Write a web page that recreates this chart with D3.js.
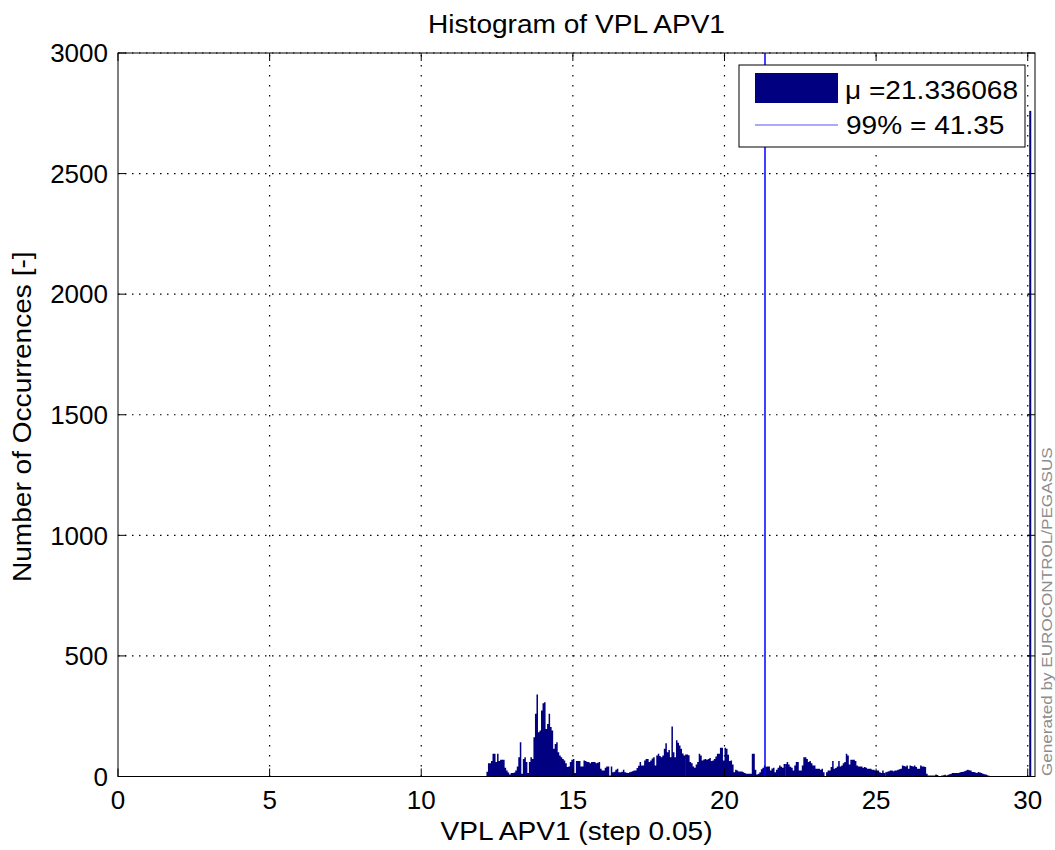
<!DOCTYPE html>
<html>
<head>
<meta charset="utf-8">
<script src="https://cdn.jsdelivr.net/npm/d3@7"></script>
<style>
  html, body { margin: 0; padding: 0; background: #fff; }
  svg { display: block; font-family: "Liberation Sans", Arial, sans-serif; }
</style>
</head>
<body>
<svg id="chart" width="1055" height="850"></svg>
<script>
// ---------------- data ----------------
const binStep = 0.05;
const xTicks = [0, 5, 10, 15, 20, 25, 30];
const yTicks = [0, 500, 1000, 1500, 2000, 2500, 3000];

// histogram counts, consecutive bins of width 0.05, each segment with its first bin start
const segStarts = [12.15, 15.40, 18.70, 22.00, 25.30];
const countsA = [20,55,55,64,94,94,60,94,64,69,69,69,36,25,17,8,14,14,17,25,41,80,142,11,73,80,60,14,60,80,73,163,260,340,184,191,274,304,308,197,218,260,205,191,115,135,142,101,87,80,73,66,55,39,41,60,69,73,14,64,64,64,41,41,66];
const countsB = [64,60,60,55,60,60,60,55,57,60,32,25,25,36,41,41,4,41,18,20,28,32,18,18,20,28,18,16,14,18,20,22,25,25,35,45,60,46,46,66,73,73,60,66,75,80,46,87,94,85,80,87,115,138,101,110,80,207,101,80,150,140,129,115,95,87];
const countsC = [91,91,88,60,55,41,36,50,60,94,87,66,70,73,69,73,77,64,66,73,83,94,94,119,119,66,119,115,90,64,66,50,18,28,25,21,21,21,18,14,11,11,11,11,94,94,28,8,11,18,30,36,46,40,41,41,25,33,36,18,28,36,46,40,36,52];
const countsD = [52,60,50,40,36,25,46,60,60,25,25,46,80,80,73,60,64,55,46,46,32,32,32,28,32,18,2,18,25,25,39,64,32,35,41,64,41,46,55,60,94,87,50,69,69,69,64,46,41,41,41,36,39,36,32,32,32,28,28,25,25,25,18,14,25,14];
const countsE = [18,20,22,25,25,22,25,25,28,30,32,46,44,41,46,32,46,44,41,46,39,32,32,46,41,41,39,11,4,4,4,4,4,8,6,2,0,4,5,7,4,7,9,11,14,15,14,15,15,18,19,20,22,25,28,26,25,19,19,17,15,19,17,14,11,9,8,5,3];
const segments = [countsA, countsB, countsC, countsD, countsE];

// overflow bin at the right edge
const overflowStart = 30.05;
const overflowCount = 2760;

const meanValue = 21.336068;
const legendLabels = ["\u03bc =21.336068", "99% = 41.35"];

const titleText = "Histogram of VPL APV1";
const xLabel = "VPL APV1 (step 0.05)";
const yLabel = "Number of Occurrences [-]";
const watermark = "Generated by EUROCONTROL/PEGASUS";

// ---------------- layout ----------------
const svg = d3.select("#chart");
const m = { left: 118, top: 53 };
const pw = 1035 - m.left, ph = 776.5 - m.top;
const FS = 26, SX = 1.08;   // font size and slight horizontal glyph stretch

const x = d3.scaleLinear().domain([0, 30.24]).range([m.left, m.left + pw]);
const y = d3.scaleLinear().domain([0, 3000]).range([m.top + ph, m.top]);

const navy = "#000080";
const blue = "#0000ff";

// helper: text with optional stretch along its direction
function label(g, X, Y, txt, anchor, rot, fs, sx, fill) {
  return g.append("text")
    .attr("transform", `translate(${X},${Y})` + (rot ? ` rotate(${rot})` : "") + ` scale(${sx},1)`)
    .attr("text-anchor", anchor).attr("font-size", fs).attr("fill", fill || "#000").text(txt);
}

// grid
const grid = svg.append("g");
grid.selectAll("line.gx").data(xTicks.filter(d => d > 0)).join("line")
  .attr("x1", d => x(d)).attr("x2", d => x(d))
  .attr("y1", y(0)).attr("y2", y(3000))
  .attr("stroke", "#000").attr("stroke-width", 1.2)
  .attr("stroke-dasharray", "1.5,8.5");
grid.selectAll("line.gy").data(yTicks.filter(d => d > 0)).join("line")
  .attr("x1", x(0)).attr("x2", x(30.24))
  .attr("y1", d => y(d)).attr("y2", d => y(d))
  .attr("stroke", "#000").attr("stroke-width", 1.2)
  .attr("stroke-dasharray", "1.5,5.5");

// histogram (step area per segment)
const area = d3.area()
  .x(d => x(d[0])).y0(y(0)).y1(d => y(d[1]))
  .curve(d3.curveStepAfter);
segments.forEach((counts, si) => {
  const pts = counts.map((c, i) => [segStarts[si] + i * binStep, c]);
  pts.push([segStarts[si] + counts.length * binStep, counts[counts.length - 1]]);
  svg.append("path").datum(pts).attr("d", area).attr("fill", navy);
});
svg.append("rect")
  .attr("x", x(overflowStart)).attr("width", x(overflowStart + binStep) - x(overflowStart) + 0.5)
  .attr("y", y(overflowCount)).attr("height", y(0) - y(overflowCount))
  .attr("fill", navy);

// mean line
svg.append("line")
  .attr("x1", x(meanValue)).attr("x2", x(meanValue))
  .attr("y1", y(0)).attr("y2", y(3000))
  .attr("stroke", blue).attr("stroke-width", 1.5);

// axes frame
svg.append("rect").attr("x", m.left).attr("y", m.top).attr("width", pw).attr("height", ph)
  .attr("fill", "none").attr("stroke", "#000").attr("stroke-width", 1);

// ticks (inward, all four sides)
const tl = 8;
const tk = svg.append("g").attr("stroke", "#000").attr("stroke-width", 1);
xTicks.forEach(d => {
  tk.append("line").attr("x1", x(d)).attr("x2", x(d)).attr("y1", y(0)).attr("y2", y(0) - tl);
  tk.append("line").attr("x1", x(d)).attr("x2", x(d)).attr("y1", y(3000)).attr("y2", y(3000) + tl);
});
yTicks.forEach(d => {
  tk.append("line").attr("x1", x(0)).attr("x2", x(0) + tl).attr("y1", y(d)).attr("y2", y(d));
  tk.append("line").attr("x1", x(30.24)).attr("x2", x(30.24) - tl).attr("y1", y(d)).attr("y2", y(d));
});

// tick labels
const tg = svg.append("g");
xTicks.forEach(d => label(tg, x(d), y(0) + 32, d, "middle", 0, FS, 1));
yTicks.forEach(d => label(tg, x(0) - 10, y(d) + 9.3, d, "end", 0, FS, 1));

// title and labels
label(svg, m.left + pw / 2, 33, titleText, "middle", 0, FS, SX);
label(svg, m.left + pw / 2, 840, xLabel, "middle", 0, FS, SX);
label(svg, 31, m.top + ph / 2 + 2, yLabel, "middle", -90, FS, SX);

// watermark
label(svg, 1052, 776, watermark, "start", -90, 15, 1.14, "#8c8c8c");

// legend
const lg = svg.append("g");
lg.append("rect").attr("x", 739).attr("y", 65).attr("width", 286).attr("height", 82)
  .attr("fill", "#fff").attr("stroke", "#000").attr("stroke-width", 1);
lg.append("rect").attr("x", 755).attr("y", 73).attr("width", 83).attr("height", 30).attr("fill", navy);
lg.append("line").attr("x1", 755).attr("x2", 838).attr("y1", 125).attr("y2", 125)
  .attr("stroke", "#5555ff").attr("stroke-width", 1.2);
label(lg, 845, 99, legendLabels[0], "start", 0, FS, SX);
label(lg, 846, 134, legendLabels[1], "start", 0, FS, SX);
</script>
</body>
</html>
